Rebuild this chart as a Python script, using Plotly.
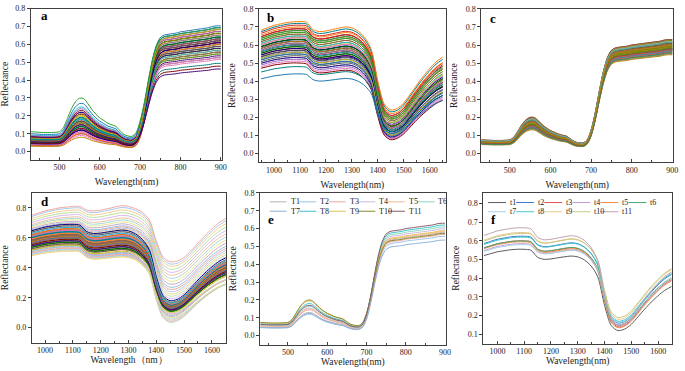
import numpy as np
import plotly.graph_objects as go
from plotly.subplots import make_subplots

# ---------------- spectral grids ----------------
VIS_WL = [430, 440, 450, 460, 470, 480, 490, 500, 510, 520, 530, 540, 550, 560, 570, 580,
          590, 600, 610, 620, 630, 640, 650, 660, 670, 680, 690, 700, 710, 720, 730, 740,
          750, 760, 770, 780, 790, 800, 810, 820, 830, 840, 850, 860, 870, 880, 890, 900]
# visible (green-peak) profile, normalised to the 555 nm peak
VIS_PROFILE = [0.37, 0.365, 0.36, 0.355, 0.355, 0.355, 0.36, 0.37, 0.45, 0.62, 0.80, 0.93,
               0.995, 0.99, 0.90, 0.79, 0.70, 0.63, 0.58, 0.53, 0.50, 0.47, 0.39, 0.32,
               0.29, 0.285, 0.32, 0.37, 0.30, 0.20, 0.12, 0.06, 0.03, 0.01, 0, 0,
               0, 0, 0, 0, 0, 0, 0, 0, 0, 0, 0, 0]
# red-edge / NIR plateau profile, normalised to 800 nm
NIR_PROFILE = [0, 0, 0, 0, 0, 0, 0, 0, 0, 0, 0, 0,
               0, 0, 0, 0, 0, 0, 0, 0, 0, 0, 0, 0,
               0, 0, 0.015, 0.09, 0.27, 0.50, 0.71, 0.86, 0.94, 0.97, 0.98, 0.985,
               0.99, 1.0, 1.005, 1.01, 1.015, 1.02, 1.025, 1.03, 1.035, 1.045, 1.05, 1.05]

NIR_WL = [950, 975, 1000, 1025, 1050, 1075, 1100, 1125, 1150, 1175, 1200, 1225, 1250, 1275,
          1300, 1325, 1350, 1375, 1400, 1425, 1450, 1475, 1500, 1525, 1550, 1575, 1600, 1625, 1650]
# two spectra: the highest and the lowest curve
NIR_HIGH = [0.75, 0.765, 0.78, 0.79, 0.80, 0.805, 0.81, 0.81, 0.785, 0.78, 0.785, 0.795, 0.805,
            0.815, 0.81, 0.795, 0.77, 0.72, 0.58, 0.47, 0.44, 0.445, 0.47, 0.515, 0.565, 0.615,
            0.66, 0.70, 0.73]
NIR_LOW = [0.53, 0.54, 0.55, 0.555, 0.56, 0.562, 0.56, 0.553, 0.505, 0.49, 0.492, 0.497, 0.502,
           0.505, 0.5, 0.48, 0.44, 0.37, 0.19, 0.065, 0.035, 0.045, 0.075, 0.12, 0.165, 0.205,
           0.24, 0.27, 0.29]

# ---------------- per-curve levels ----------------
# panel a: green peak (555 nm) and NIR plateau (800 nm)
A_VIS = [0.19, 0.14, 0.22, 0.11, 0.17, 0.25, 0.13, 0.2, 0.09, 0.16, 0.21, 0.12, 0.18, 0.15, 0.23,
         0.1, 0.14, 0.19, 0.12, 0.17, 0.24, 0.13, 0.16, 0.2, 0.11, 0.15, 0.18, 0.22, 0.08, 0.14,
         0.17, 0.12, 0.19, 0.16, 0.21, 0.1, 0.13, 0.18, 0.15, 0.2, 0.11, 0.17, 0.14, 0.12, 0.16,
         0.19, 0.13, 0.15, 0.27, 0.30]
A_NIR = [0.6, 0.55, 0.64, 0.52, 0.58, 0.66, 0.5, 0.62, 0.56, 0.6, 0.63, 0.53, 0.59, 0.57, 0.65,
         0.51, 0.61, 0.55, 0.58, 0.54, 0.64, 0.6, 0.57, 0.62, 0.49, 0.56, 0.63, 0.59, 0.53, 0.61,
         0.58, 0.55, 0.66, 0.52, 0.6, 0.57, 0.62, 0.54, 0.59, 0.65, 0.5, 0.56, 0.61, 0.58, 0.63,
         0.47, 0.455, 0.44, 0.67, 0.66]
# panel b: reflectance at 1100 nm and at 1450 nm
B_P = [0.62, 0.58, 0.68, 0.55, 0.65, 0.6, 0.71, 0.53, 0.64, 0.57, 0.69, 0.61, 0.52, 0.66, 0.59,
       0.63, 0.56, 0.7, 0.6, 0.54, 0.67, 0.62, 0.58, 0.65, 0.51, 0.63, 0.6, 0.68, 0.56, 0.64,
       0.59, 0.72, 0.55, 0.61, 0.66, 0.57, 0.62, 0.53, 0.69, 0.6, 0.64, 0.58, 0.5, 0.67, 0.61,
       0.56, 0.63, 0.48, 0.44, 0.73]
B_W = [0.15, 0.12, 0.19, 0.1, 0.17, 0.14, 0.21, 0.09, 0.16, 0.13, 0.2, 0.15, 0.085, 0.18, 0.13,
       0.16, 0.11, 0.22, 0.14, 0.1, 0.19, 0.15, 0.12, 0.17, 0.08, 0.16, 0.13, 0.2, 0.11, 0.17,
       0.12, 0.23, 0.095, 0.14, 0.18, 0.11, 0.15, 0.09, 0.21, 0.13, 0.16, 0.12, 0.075, 0.19, 0.14,
       0.1, 0.15, 0.12, 0.11, 0.24]
# panel c
C_VIS = [0.165, 0.15, 0.18, 0.14, 0.175, 0.155, 0.19, 0.145, 0.17, 0.16, 0.2, 0.135, 0.185, 0.15,
         0.165, 0.175, 0.14, 0.195, 0.155, 0.17, 0.16, 0.13, 0.18, 0.15, 0.165, 0.19, 0.145,
         0.175, 0.155, 0.2, 0.14, 0.17, 0.16, 0.185, 0.15, 0.165, 0.135, 0.18, 0.155, 0.17,
         0.145, 0.19, 0.16, 0.175, 0.15, 0.165, 0.14, 0.185, 0.155, 0.17]
C_NIR = [0.56, 0.545, 0.58, 0.535, 0.57, 0.55, 0.59, 0.54, 0.565, 0.555, 0.6, 0.525, 0.585, 0.545,
         0.56, 0.575, 0.53, 0.595, 0.55, 0.57, 0.555, 0.52, 0.58, 0.545, 0.565, 0.59, 0.54,
         0.575, 0.55, 0.6, 0.535, 0.565, 0.555, 0.585, 0.545, 0.56, 0.525, 0.58, 0.55, 0.57,
         0.54, 0.59, 0.555, 0.575, 0.545, 0.565, 0.53, 0.585, 0.55, 0.57]
# panel d: dense band, upper light curves, lower light curves
D_P = [0.62, 0.58, 0.66, 0.6, 0.64, 0.56, 0.63, 0.59, 0.67, 0.61, 0.57, 0.65, 0.6, 0.62, 0.58,
       0.68, 0.63, 0.55, 0.61, 0.64, 0.59, 0.66, 0.6, 0.57, 0.63, 0.62, 0.65, 0.58, 0.61, 0.69,
       0.6, 0.56, 0.64, 0.62, 0.59, 0.67, 0.61, 0.63, 0.57, 0.6, 0.65, 0.58, 0.62, 0.64, 0.6]
D_W = [0.14, 0.12, 0.16, 0.13, 0.15, 0.11, 0.145, 0.125, 0.165, 0.135, 0.115, 0.155, 0.13, 0.14,
       0.12, 0.17, 0.15, 0.105, 0.135, 0.155, 0.125, 0.16, 0.13, 0.11, 0.145, 0.14, 0.15, 0.12,
       0.135, 0.18, 0.13, 0.115, 0.15, 0.14, 0.125, 0.165, 0.135, 0.145, 0.11, 0.13, 0.155, 0.12,
       0.14, 0.15, 0.13]
D_UP_P = [0.81, 0.80, 0.785, 0.77, 0.755, 0.74, 0.73, 0.72, 0.71, 0.70, 0.695, 0.69, 0.685, 0.68, 0.675]
D_UP_W = [0.44, 0.425, 0.41, 0.39, 0.37, 0.35, 0.33, 0.31, 0.29, 0.27, 0.255, 0.24, 0.225, 0.21, 0.195]
D_LO_P = [0.555, 0.545, 0.535, 0.525, 0.515, 0.55, 0.54, 0.53, 0.52, 0.51]
D_LO_W = [0.035, 0.042, 0.05, 0.058, 0.066, 0.074, 0.082, 0.09, 0.097, 0.1]
# panel e: treatment means T1..T11
E_NAMES = ["T1", "T2", "T3", "T4", "T5", "T6", "T7", "T8", "T9", "T10", "T11"]
E_VIS = [0.13, 0.12, 0.145, 0.155, 0.15, 0.165, 0.125, 0.18, 0.195, 0.2, 0.17]
E_NIR = [0.55, 0.53, 0.54, 0.57, 0.555, 0.58, 0.51, 0.59, 0.56, 0.545, 0.60]
E_COLORS = ["#b4b4b4", "#9cc3e6", "#f2a7a0", "#cdb6e6", "#f5b98c", "#8fd6c0",
            "#8fb0d8", "#3cc3c8", "#e5bf5c", "#8a8a30", "#8b5a6a"]
# panel f: treatment means t1..t11
F_NAMES = ["t1", "t2", "t3", "t4", "t5", "t6", "t7", "t8", "t9", "t10", "t11"]
F_P = [0.555, 0.625, 0.60, 0.585, 0.595, 0.60, 0.58, 0.62, 0.645, 0.64, 0.67]
F_W = [0.12, 0.16, 0.14, 0.145, 0.135, 0.15, 0.165, 0.17, 0.18, 0.19, 0.15]
F_COLORS = ["#5a5a5a", "#3a78c2", "#e05252", "#c39ad8", "#f08a40", "#4aa870",
            "#a8d0e8", "#40c8d0", "#e8c890", "#c8c880", "#c0a0b0"]

PALETTE = ["#1f77b4", "#2ca02c", "#d62728", "#ff7f0e", "#9467bd", "#17becf", "#8c564b",
           "#bcbd22", "#e377c2", "#555555", "#006400", "#00008b", "#b8860b", "#008080",
           "#800000", "#4b0082"]
MUTED = ["#6b8e23", "#808000", "#8b5a2b", "#556b2f", "#4682b4", "#a0522d", "#2e8b57",
         "#b8860b", "#696969", "#8fbc8f", "#cd5c5c", "#5f9ea0", "#9a8a50", "#7a6a9a"]
PASTEL = ["#f4a6a0", "#a6c8ec", "#f2d08a", "#b8e0a0", "#d8b8e8", "#f0c0a0", "#a0d8d8",
          "#e6e690", "#c8a8c8", "#90c0e0"]

FONT = "Liberation Serif"
LINE = "#404040"

vp = np.array(VIS_PROFILE)
np_ = np.array(NIR_PROFILE)
H = np.array(NIR_HIGH)
L = np.array(NIR_LOW)
i1100 = NIR_WL.index(1100)
i1450 = NIR_WL.index(1450)
pH, wH, pL, wL = H[i1100], H[i1450], L[i1100], L[i1450]
det = pH * wL - pL * wH
BASIS_P = (H * wL - L * wH) / det
BASIS_W = (pH * L - pL * H) / det


def vis_curve(v, n):
    return v * vp + n * np_


def nir_curve(p, w):
    return p * BASIS_P + w * BASIS_W


fig = make_subplots(rows=2, cols=3)


def add(x, y, row, col, color, name=""):
    fig.add_trace(go.Scatter(x=x, y=y, mode="lines", name=name, showlegend=False,
                             line=dict(color=color, width=1, shape="spline", smoothing=0.8),
                             hoverinfo="skip"), row=row, col=col)


for i, (v, n) in enumerate(zip(A_VIS, A_NIR)):
    add(VIS_WL, vis_curve(v, n), 1, 1, PALETTE[i % len(PALETTE)])
for i, (p, w) in enumerate(zip(B_P, B_W)):
    add(NIR_WL, nir_curve(p, w), 1, 2, PALETTE[(i * 3) % len(PALETTE)])
for i, (v, n) in enumerate(zip(C_VIS, C_NIR)):
    add(VIS_WL, vis_curve(v, n), 1, 3, MUTED[(i * 5) % len(MUTED)])
for i, (p, w) in enumerate(zip(D_UP_P, D_UP_W)):
    add(NIR_WL, nir_curve(p, w), 2, 1, PASTEL[i % len(PASTEL)])
for i, (p, w) in enumerate(zip(D_LO_P, D_LO_W)):
    add(NIR_WL, nir_curve(p, w), 2, 1, PASTEL[(i + 3) % len(PASTEL)])
for i, (p, w) in enumerate(zip(D_P, D_W)):
    add(NIR_WL, nir_curve(p, w), 2, 1, PALETTE[(i * 7) % len(PALETTE)])
for name, v, n, c in zip(E_NAMES, E_VIS, E_NIR, E_COLORS):
    add(VIS_WL, vis_curve(v, n), 2, 2, c, name)
for name, p, w, c in zip(F_NAMES, F_P, F_W, F_COLORS):
    add(NIR_WL, nir_curve(p, w), 2, 3, c, name)

# ---------------- layout ----------------
W, Hh = 685, 371
# pixel boxes (left, right, top, bottom)
boxes = [(31, 224, 4.7, 157.3), (261, 449, 5, 160), (485, 678, 5, 160),
         (32, 228, 191, 342.3), (262, 449, 191, 344.3), (487, 677, 191, 343.3)]
xranges = [[429, 904], [942, 1662], [430, 902], [952, 1652], [429, 902], [948, 1652]]
yranges = [[-0.045, 0.8], [-0.05, 0.8], [-0.05, 0.8], [-0.1, 0.9], [-0.05, 0.8], [0.05, 0.857]]
ydticks = [0.1, 0.1, 0.1, 0.2, 0.1, 0.1]
xtitles = ["Wavelength(nm)"] * 3 + ["Wavelength（nm）", "Wavelength(nm)", "Wavelength(nm)"]
xstandoff = [7, 7, 7, 1, 2, 1]

for k in range(6):
    l, r, t, b = boxes[k]
    sx = "xaxis" if k == 0 else f"xaxis{k+1}"
    sy = "yaxis" if k == 0 else f"yaxis{k+1}"
    fig.layout[sx].update(
        domain=[l / W, r / W], range=xranges[k], showgrid=False, zeroline=False,
        showline=True, mirror=True, linecolor=LINE, linewidth=1,
        ticks="inside", ticklen=3, tickcolor=LINE, dtick=100, tick0=0,
        minor=dict(ticks="inside", ticklen=2, dtick=50, tickcolor=LINE),
        tickfont=dict(family=FONT, size=8, color="#222"),
        title=dict(text=xtitles[k], font=dict(family=FONT, size=9.5, color="#222"),
                   standoff=xstandoff[k]))
    fig.layout[sy].update(
        domain=[1 - b / Hh, 1 - t / Hh], range=yranges[k], showgrid=False, zeroline=False,
        showline=True, mirror=True, linecolor=LINE, linewidth=1,
        ticks="outside", ticklen=3, tickcolor=LINE, dtick=ydticks[k], tick0=0,
        tickformat=".1f",
        tickfont=dict(family=FONT, size=8, color="#222"),
        title=dict(text="Reflectance", font=dict(family=FONT, size=9.5, color="#222"), standoff=6))

annotations = []
letters = ["a", "b", "c", "d", "e", "f"]
letter_pos = [(45, 12), (272, 14), (497, 15), (45, 200), (273, 218), (497, 218)]
for k, (lt, (px, py)) in enumerate(zip(letters, letter_pos)):
    annotations.append(dict(text=f"<b>{lt}</b>", x=px / W, y=1 - py / Hh, xref="paper", yref="paper",
                            showarrow=False, xanchor="center", yanchor="middle",
                            font=dict(family=FONT, size=13, color="#000")))

shapes = []


def manual_legend(names, colors, xref, yref, box, x0px, step, rows_y, seglen, textgap):
    l, r, t, b = box
    for i, (nm, c) in enumerate(zip(names, colors)):
        row = 0 if i < 6 else 1
        col = i if i < 6 else i - 6
        xs = x0px + step * col
        yy = rows_y[row]
        fx0 = (xs - l) / (r - l)
        fx1 = (xs + seglen - l) / (r - l)
        fy = (b - yy) / (b - t)
        shapes.append(dict(type="line", xref=xref, yref=yref, x0=fx0, x1=fx1, y0=fy, y1=fy,
                           line=dict(color=c, width=1)))
        annotations.append(dict(text=nm, xref=xref, yref=yref, x=(xs + seglen + textgap - l) / (r - l),
                                y=fy, showarrow=False, xanchor="left", yanchor="middle",
                                font=dict(family=FONT, size=8, color="#222")))


manual_legend(E_NAMES, E_COLORS, "x5 domain", "y5 domain", boxes[4], 271.7, 29.8, [200, 209.5], 17, 2)
manual_legend(F_NAMES, F_COLORS, "x6 domain", "y6 domain", boxes[5], 491.7, 28.3, [200.7, 210], 18, 2)

fig.update_layout(width=W, height=Hh, margin=dict(l=0, r=0, t=0, b=0),
                  paper_bgcolor="white", plot_bgcolor="white", showlegend=False,
                  annotations=annotations, shapes=shapes,
                  font=dict(family=FONT, size=8))

fig.write_html("out.html", config={"displayModeBar": False},
               post_script="document.body.style.margin='0px';")
